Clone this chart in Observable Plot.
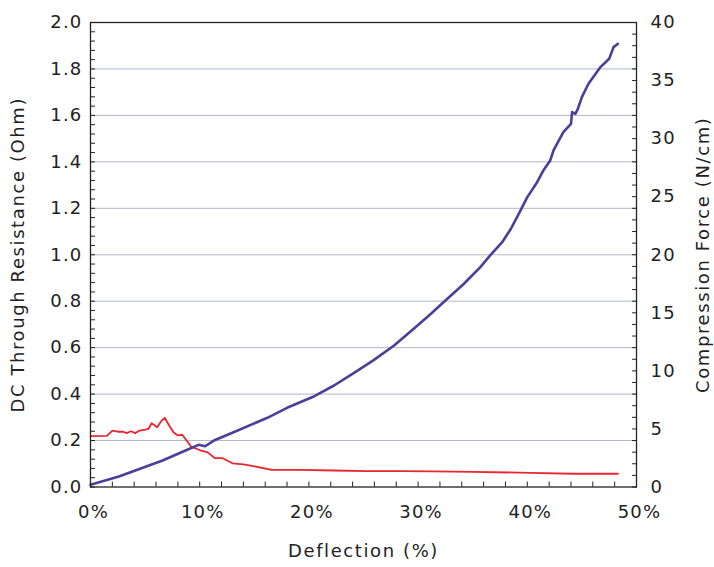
<!DOCTYPE html>
<html>
<head>
<meta charset="utf-8">
<script src="https://cdn.jsdelivr.net/npm/d3@7"></script>
<script src="https://cdn.jsdelivr.net/npm/@observablehq/plot@0.6"></script>
<style>
  html, body { margin: 0; padding: 0; background: #fff; }
  #chart svg text { letter-spacing: 1.2px; }
</style>
</head>
<body>
<div id="chart"></div>
<script>
// Deflection (%) and DC through resistance (Ohm) — red series
const redX = [0, 1.5, 2.0, 2.5, 3.0, 3.3, 3.7, 4.1, 4.5, 5.0, 5.3, 5.6, 6.1, 6.5, 6.8, 7.2, 7.6, 8.0, 8.4, 8.8, 9.2, 10.1, 10.7, 11.4, 12.1, 13.0, 14.0, 14.9, 16.6, 19.2, 22.3, 25.3, 28.4, 31.4, 35.0, 40.3, 44.2, 48.3];
const redOhm = [0.219, 0.220, 0.243, 0.238, 0.238, 0.232, 0.240, 0.232, 0.243, 0.247, 0.250, 0.275, 0.257, 0.285, 0.298, 0.265, 0.236, 0.222, 0.225, 0.200, 0.174, 0.157, 0.150, 0.124, 0.124, 0.102, 0.097, 0.090, 0.074, 0.074, 0.071, 0.068, 0.068, 0.067, 0.065, 0.061, 0.057, 0.057];

// Deflection (%) and compression force (N/cm) — blue series
const blueX = [0, 2.6, 6.6, 8.7, 9.9, 10.5, 11.3, 13.1, 16.2, 18.0, 20.5, 22.3, 24.1, 25.9, 27.8, 29.6, 31.1, 32.5, 34.2, 35.7, 36.6, 37.7, 38.5, 39.3, 40.0, 40.9, 41.5, 42.1, 42.4, 43.3, 44.0, 44.1, 44.4, 44.6, 45.0, 45.6, 46.7, 47.5, 47.9, 48.3];
const blueForce = [0.2, 0.9, 2.28, 3.14, 3.63, 3.51, 4.0, 4.72, 5.96, 6.82, 7.82, 8.74, 9.80, 10.9, 12.19, 13.63, 14.86, 16.06, 17.5, 18.93, 19.94, 21.08, 22.24, 23.67, 24.96, 26.25, 27.3, 28.12, 28.98, 30.56, 31.28, 32.28, 32.14, 32.49, 33.57, 34.73, 36.16, 36.88, 37.88, 38.17];

// tick labels
const xTicks = [0, 10, 20, 30, 40, 50];
const leftTicks = [0, 0.2, 0.4, 0.6, 0.8, 1.0, 1.2, 1.4, 1.6, 1.8, 2.0];
const rightTicks = [0, 5, 10, 15, 20, 25, 30, 35, 40];

const forceMax = 40, ohmMax = 2;
const f2o = f => f * ohmMax / forceMax;

const red = redX.map((x, i) => ({x, y: redOhm[i]}));
const blue = blueX.map((x, i) => ({x, y: f2o(blueForce[i])}));

const xMinor = d3.range(0, 50.001, 2);
const leftMinor = d3.range(0, 51).map(i => i * 0.04);
const rightMinor = d3.range(0, 41).map(f2o);

const titles = ["Deflection (%)", "DC Through Resistance (Ohm)", "Compression Force (N/cm)"];

const font = "DejaVu Sans";
const plot = Plot.plot({
  width: 714,
  height: 567,
  marginLeft: 90,
  marginRight: 78,
  marginTop: 22,
  marginBottom: 80.5,
  style: {fontFamily: font, fontSize: "18px", color: "#222", background: "#fff"},
  x: {domain: [0, 50]},
  y: {domain: [0, 2]},
  marks: [
    Plot.gridY(leftTicks.slice(1, -1), {stroke: "#aeb8c6", strokeOpacity: 1, strokeWidth: 1}),
    // inward minor/major ticks
    Plot.axisY({ticks: leftMinor, anchor: "left", tickSize: 5, dx: 5, tickFormat: () => "", label: null, stroke: "#222"}),
    Plot.axisY({ticks: rightMinor, anchor: "right", tickSize: 5, dx: -5, tickFormat: () => "", label: null, stroke: "#222"}),
    Plot.axisX({ticks: xMinor, anchor: "bottom", tickSize: 5, dy: -5, tickFormat: () => "", label: null, stroke: "#222"}),
    // tick labels
    Plot.axisY({ticks: leftTicks, anchor: "left", tickSize: 0, tickPadding: 8, tickFormat: d3.format(".1f"), label: null, fontSize: 18}),
    Plot.axisY({ticks: rightTicks.map(f2o), anchor: "right", tickSize: 0, tickPadding: 14, tickFormat: d => String(Math.round(d * forceMax / ohmMax)), label: null, fontSize: 18, textAnchor: "start"}),
    Plot.axisX({ticks: xTicks, anchor: "bottom", tickSize: 0, tickPadding: 18, tickFormat: d => d + "%", label: null, fontSize: 18, dx: 3}),
    // titles
    Plot.text([titles[0]], {text: d => d, frameAnchor: "bottom", textAnchor: "middle", dy: 70, fontSize: 18, fill: "#222"}),
    Plot.text([titles[1]], {text: d => d, frameAnchor: "left", textAnchor: "middle", dx: -72, rotate: -90, fontSize: 18, fill: "#222"}),
    Plot.text([titles[2]], {text: d => d, frameAnchor: "right", textAnchor: "middle", dx: 67, rotate: -90, fontSize: 18, fill: "#222"}),
    // data
    Plot.line(red, {x: "x", y: "y", stroke: "#e8262e", strokeWidth: 1.8}),
    Plot.line(blue, {x: "x", y: "y", stroke: "#4b3f9a", strokeWidth: 2.6}),
    Plot.frame({stroke: "#222", strokeWidth: 1.3})
  ]
});
d3.select(plot).selectAll("text")
  .filter(function() { return titles.includes(this.textContent); })
  .style("letter-spacing", "1.6px");
document.getElementById("chart").appendChild(plot);
</script>
</body>
</html>
